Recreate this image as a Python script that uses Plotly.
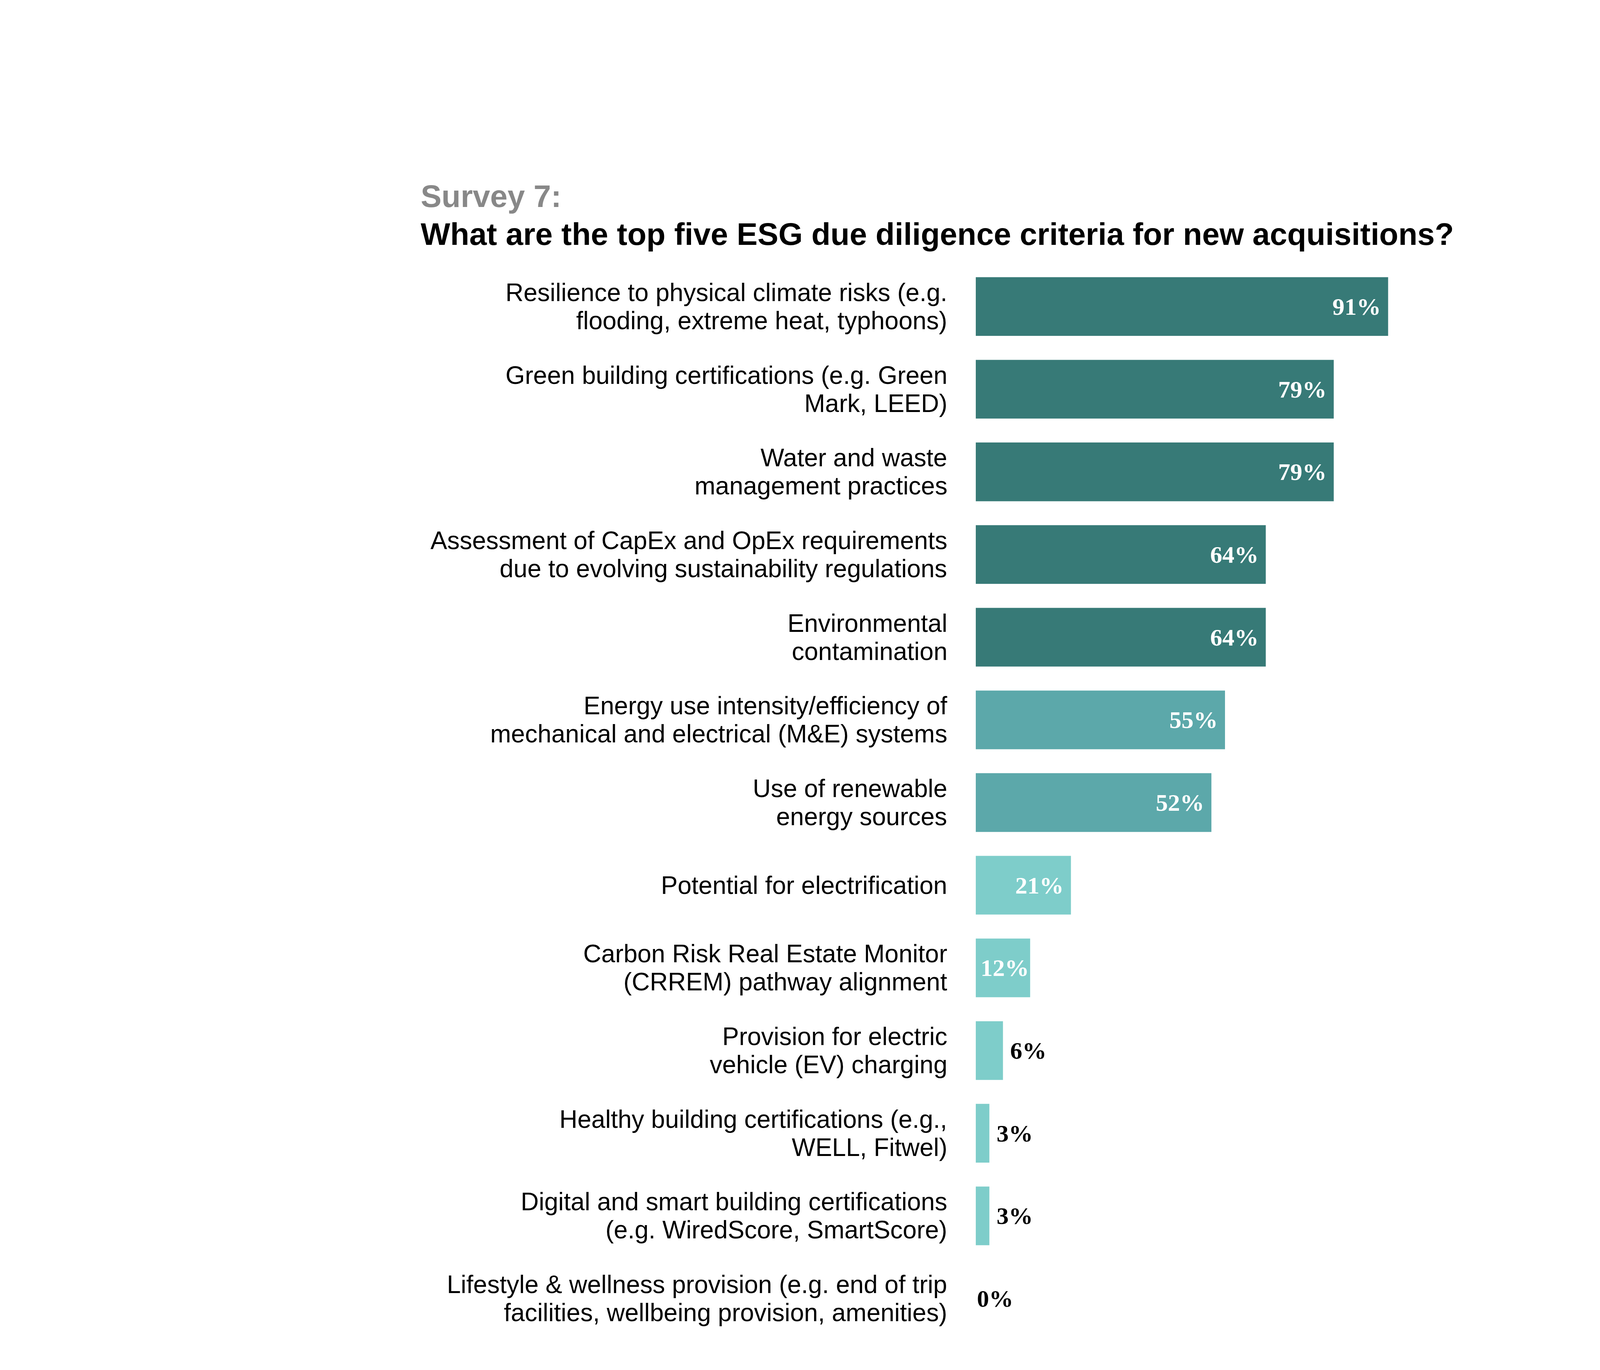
import plotly.graph_objects as go

categories = [
    "Resilience to physical climate risks (e.g.<br>flooding, extreme heat, typhoons)",
    "Green building certifications (e.g. Green<br>Mark, LEED)",
    "Water and waste<br>management practices",
    "Assessment of CapEx and OpEx requirements<br>due to evolving sustainability regulations",
    "Environmental<br>contamination",
    "Energy use intensity/efficiency of<br>mechanical and electrical (M&E) systems",
    "Use of renewable<br>energy sources",
    "Potential for electrification",
    "Carbon Risk Real Estate Monitor<br>(CRREM) pathway alignment",
    "Provision for electric<br>vehicle (EV) charging",
    "Healthy building certifications (e.g.,<br>WELL, Fitwel)",
    "Digital and smart building certifications<br>(e.g. WiredScore, SmartScore)",
    "Lifestyle & wellness provision (e.g. end of trip<br>facilities, wellbeing provision, amenities)",
]
values = [91, 79, 79, 64, 64, 55, 52, 21, 12, 6, 3, 3, 0]

DARK, MID, LIGHT = "#377a77", "#5ca8aa", "#7ecdca"
colors = [DARK] * 5 + [MID] * 2 + [LIGHT] * 6

NB = "\u00a0"
labels, positions, text_colors = [], [], []
for v in values:
    if v >= 12:
        labels.append(f"{v}%{NB}" if v >= 20 else f"{v}%")
        positions.append("inside")
        text_colors.append("white")
    else:
        labels.append(f"{NB}{v}%" if v > 0 else f"{v}%")
        positions.append("outside")
        text_colors.append("black")

fig = go.Figure(go.Bar(
    x=values,
    y=categories,
    orientation="h",
    marker=dict(color=colors, line=dict(width=0)),
    text=labels,
    textposition=positions,
    insidetextanchor="end",
    textangle=0,
    constraintext="none",
    cliponaxis=False,
    textfont=dict(family="Liberation Serif", size=62, weight="bold", color=text_colors),
))

fig.update_layout(
    width=4961, height=3508,
    paper_bgcolor="white", plot_bgcolor="white",
    margin=dict(l=2490, r=1311, t=671, b=85),
    bargap=0.29,
    showlegend=False,
    font=dict(family="Liberation Sans", color="black"),
)
fig.update_xaxes(range=[0, 100], visible=False)
fig.update_yaxes(
    autorange="reversed", showticklabels=False,
    showline=False, showgrid=False, zeroline=False, ticks="",
)

# category labels, one annotation per line to get the tight line spacing
line_gap = 72
for cat in categories:
    lines = cat.split("<br>")
    n = len(lines)
    for i, line in enumerate(lines):
        fig.add_annotation(
            text=line, x=0, y=cat, xref="x", yref="y",
            xanchor="right", yanchor="middle", xshift=-71,
            yshift=((n - 1) / 2 - i) * line_gap, showarrow=False,
            font=dict(family="Liberation Sans", size=64, color="black"),
        )

fig.add_annotation(
    text="<b>Survey 7:</b>", xref="paper", yref="paper",
    x=-1.2267, y=1.064, xanchor="left", yanchor="middle", showarrow=False,
    font=dict(family="Liberation Sans", size=80, color="#888888"),
)
fig.add_annotation(
    text="<b>What are the top five ESG due diligence criteria for new acquisitions?</b>",
    xref="paper", yref="paper",
    x=-1.2267, y=1.029, xanchor="left", yanchor="middle", showarrow=False,
    font=dict(family="Liberation Sans", size=80, color="black"),
)

fig.write_html("out.html")
